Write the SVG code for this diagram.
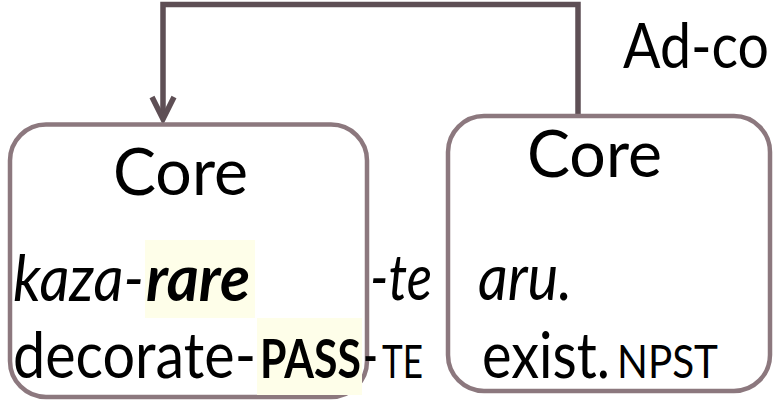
<svg xmlns="http://www.w3.org/2000/svg" width="775" height="403" viewBox="0 0 775 403">
  <style>
    text { font-family: Lato, "Open Sans", sans-serif; fill: #000; }
    .core { font-size: 66px; }
    .main { font-size: 64px; }
    .it { font-style: italic; }
    .b { font-weight: bold; }
    .sc { font-size: 46px; }
    .box { fill: #fff; stroke: #8c787e; stroke-width: 4.5; }
    .hl { fill: #fefee9; stroke: none; }
    .conn { fill: none; stroke: #5e4f55; stroke-width: 5.5; }
  </style>
  <rect width="775" height="403" fill="#fff"/>

  <g id="connectors">
    <path class="conn" d="M578,115 L578,4.5 L163,4.5 L163,119"/>
    <path class="conn" d="M152,97 L163,119 L174,97"/>
  </g>

  <g id="core1">
    <rect class="box" x="10" y="124.5" width="357" height="272.5" rx="36" ry="36"/>
    <rect class="hl" x="145" y="240" width="110" height="78"/>
    <rect class="hl" x="257" y="318" width="105" height="77"/>
    <text class="core" x="113" y="195" textLength="135" lengthAdjust="spacingAndGlyphs">Core</text>
    <text class="main it" x="13" y="301" textLength="131" lengthAdjust="spacingAndGlyphs">kaza-</text>
    <text class="main it b" x="146" y="301" textLength="104" lengthAdjust="spacingAndGlyphs">rare</text>
    <text class="main" x="13" y="378" textLength="243" lengthAdjust="spacingAndGlyphs">decorate-</text>
    <text class="main b" x="260" y="378" textLength="101" lengthAdjust="spacingAndGlyphs" style="font-size:54px">PASS</text>
  </g>

  <g id="te">
    <text class="main it" x="370" y="300" textLength="62" lengthAdjust="spacingAndGlyphs">-te</text>
    <text class="main" x="363" y="378" textLength="15" lengthAdjust="spacingAndGlyphs">-</text>
    <text class="sc" x="382" y="378" textLength="41" lengthAdjust="spacingAndGlyphs">TE</text>
  </g>

  <g id="core2">
    <rect class="box" x="448" y="116" width="322" height="275" rx="36" ry="36"/>
    <text class="core" x="527" y="177" textLength="135" lengthAdjust="spacingAndGlyphs">Core</text>
    <text class="main it" x="478" y="300" textLength="94" lengthAdjust="spacingAndGlyphs">aru.</text>
    <text class="main" x="482" y="378" textLength="128" lengthAdjust="spacingAndGlyphs">exist.</text>
    <text class="sc" x="617" y="378" textLength="101" lengthAdjust="spacingAndGlyphs">NPST</text>
  </g>

  <g id="adcore">
    <text class="core" x="623" y="68" textLength="146" lengthAdjust="spacingAndGlyphs" style="font-size:62px">Ad-co</text>
  </g>
</svg>
